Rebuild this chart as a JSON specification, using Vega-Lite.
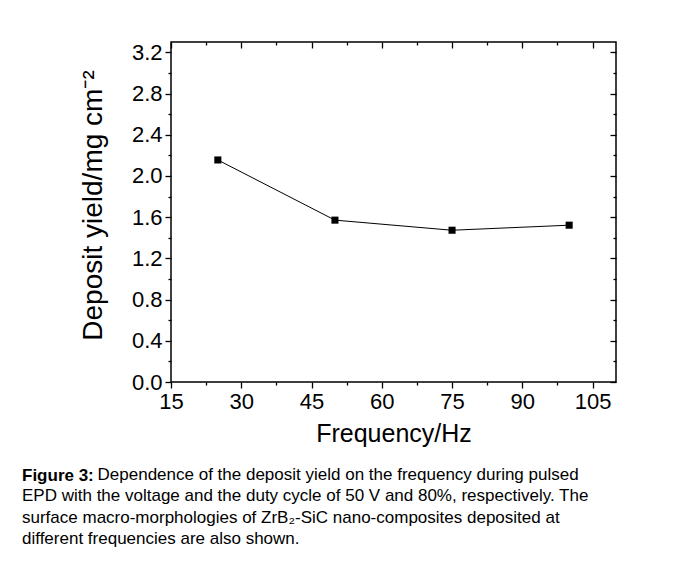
{
  "$schema": "https://vega.github.io/schema/vega-lite/v6.json",
  "autosize": "none",
  "width": 445,
  "height": 340,
  "padding": {"left": 171, "top": 42, "right": 60, "bottom": 188},
  "background": "white",
  "config": {
    "font": "Liberation Sans",
    "view": {"stroke": "black", "strokeWidth": 1.5},
    "axis": {"domain": false, "grid": false, "labelFlush": false, "tickColor": "black", "tickWidth": 1.3, "labelColor": "black", "titleColor": "black", "labelFont": "Liberation Sans", "titleFont": "Liberation Sans", "titleFontWeight": "normal"}
  },
  "title": {
    "text": "Figure 3:",
    "subtitle": [
      "\u200b\u00a0\u00a0\u00a0\u00a0\u00a0\u00a0\u00a0\u00a0\u00a0\u00a0\u00a0\u00a0\u00a0\u00a0\u00a0\u00a0Dependence of the deposit yield on the frequency during pulsed",
      "EPD with the voltage and the duty cycle of 50 V and 80%, respectively. The",
      "surface macro-morphologies of ZrB\u2082-SiC nano-composites deposited at",
      "different frequencies are also shown."
    ],
    "orient": "bottom",
    "anchor": "start",
    "frame": "group",
    "dx": -149,
    "offset": 22,
    "font": "Liberation Sans",
    "fontSize": 17,
    "fontWeight": "bold",
    "color": "black",
    "subtitleFont": "Liberation Sans",
    "subtitleFontSize": 17,
    "subtitleColor": "black",
    "subtitleLineHeight": 21.5,
    "subtitlePadding": -18.5
  },
  "data": {"values": [
    {"freq": 25, "yield": 2.155},
    {"freq": 50, "yield": 1.571},
    {"freq": 75, "yield": 1.473},
    {"freq": 100, "yield": 1.522}
  ]},
  "resolve": {"axis": {"x": "independent", "y": "independent"}},
  "layer": [
    {
      "mark": {"type": "line", "color": "black", "strokeWidth": 1},
      "encoding": {
        "x": {"field": "freq", "type": "quantitative", "scale": {"domain": [15, 110], "nice": false, "zero": false},
          "axis": {"orient": "bottom", "values": [15, 30, 45, 60, 75, 90, 105], "tickSize": 6, "labelFontSize": 22, "labelPadding": 3, "title": "Frequency/Hz", "titleFontSize": 25, "titlePadding": 9}},
        "y": {"field": "yield", "type": "quantitative", "scale": {"domain": [0, 3.3], "nice": false},
          "axis": {"orient": "left", "values": [0, 0.4, 0.8, 1.2, 1.6, 2.0, 2.4, 2.8, 3.2], "format": ".1f", "tickSize": 6, "labelFontSize": 22, "labelPadding": 3, "title": "Deposit yield/mg cm\u207b\u00b2", "titleFontSize": 28, "titlePadding": 24, "titleY": 163}}
      }
    },
    {
      "mark": {"type": "point", "shape": "square", "filled": true, "color": "black", "opacity": 1, "size": 50},
      "encoding": {
        "x": {"field": "freq", "type": "quantitative",
          "axis": {"orient": "bottom", "values": [22.5, 37.5, 52.5, 67.5, 82.5, 97.5], "tickSize": 3, "labels": false, "title": null}},
        "y": {"field": "yield", "type": "quantitative",
          "axis": {"orient": "left", "values": [0.2, 0.6, 1.0, 1.4, 1.8, 2.2, 2.6, 3.0], "tickSize": 3, "labels": false, "title": null}}
      }
    },
    {
      "mark": {"type": "point", "opacity": 0},
      "encoding": {
        "x": {"field": "freq", "type": "quantitative",
          "axis": {"orient": "top", "values": [15, 30, 45, 60, 75, 90, 105], "tickSize": -6, "labels": false, "title": null}},
        "y": {"field": "yield", "type": "quantitative",
          "axis": {"orient": "right", "values": [0, 0.4, 0.8, 1.2, 1.6, 2.0, 2.4, 2.8, 3.2], "tickSize": -6, "labels": false, "title": null}}
      }
    },
    {
      "mark": {"type": "point", "opacity": 0},
      "encoding": {
        "x": {"field": "freq", "type": "quantitative",
          "axis": {"orient": "top", "values": [22.5, 37.5, 52.5, 67.5, 82.5, 97.5], "tickSize": -3, "labels": false, "title": null}},
        "y": {"field": "yield", "type": "quantitative",
          "axis": {"orient": "right", "values": [0.2, 0.6, 1.0, 1.4, 1.8, 2.2, 2.6, 3.0], "tickSize": -3, "labels": false, "title": null}}
      }
    }
  ]
}
